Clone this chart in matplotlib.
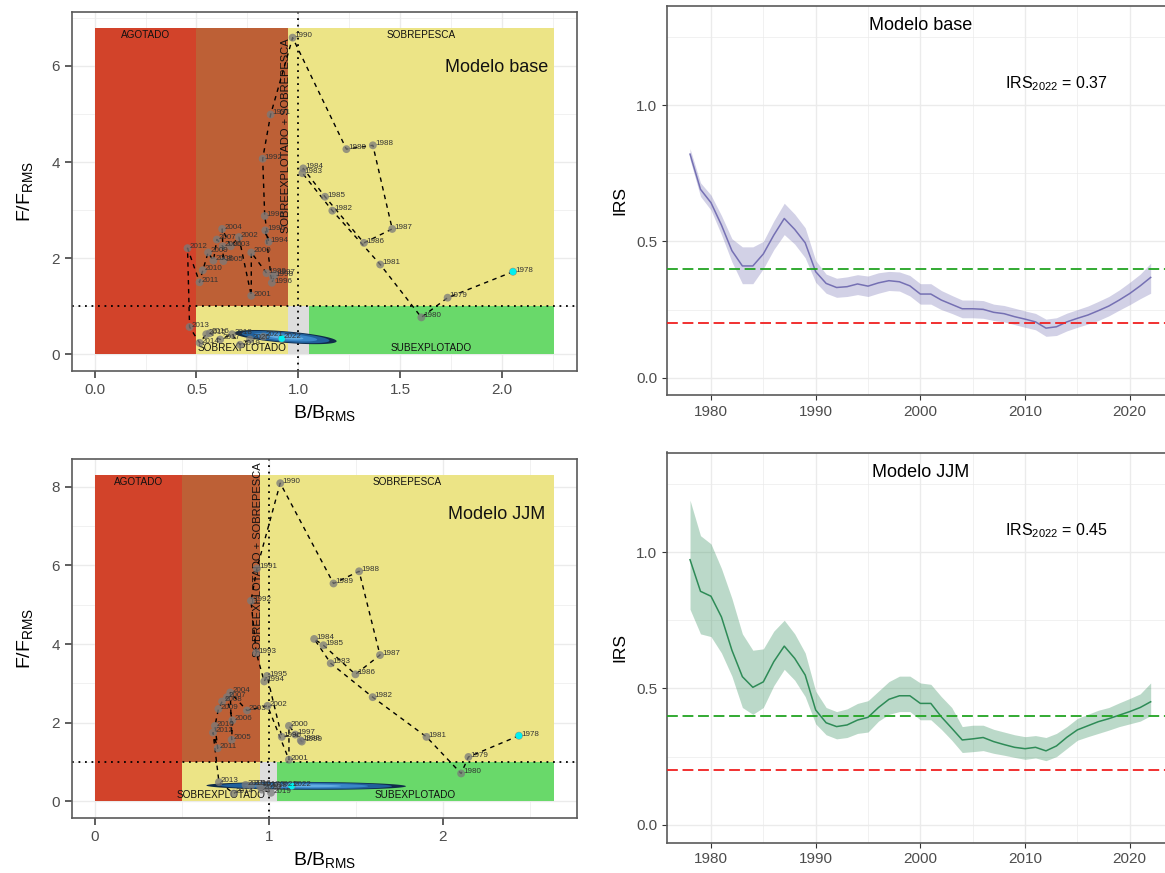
import numpy as np
import matplotlib
matplotlib.use("Agg")
import matplotlib.pyplot as plt
from matplotlib.patches import Rectangle, Polygon

plt.rcParams['font.family'] = ['Liberation Sans', 'DejaVu Sans']
plt.rcParams['mathtext.fontset'] = 'custom'
plt.rcParams['mathtext.rm'] = 'Liberation Sans'

# ---------------- data ----------------
years = list(range(1978, 2023))

base_B = [2.054, 1.733, 1.604, 1.402, 1.167, 1.020, 1.024, 1.131, 1.322, 1.461,
          1.366, 1.236, 0.972, 0.864, 0.825, 0.835, 0.854, 0.838, 0.870, 0.885,
          0.875, 0.844, 0.769, 0.769, 0.708, 0.668, 0.626, 0.632, 0.629, 0.600,
          0.583, 0.557, 0.531, 0.515, 0.456, 0.466, 0.515, 0.548, 0.565, 0.616,
          0.675, 0.714, 0.763, 0.828, 0.919]
base_F = [1.72, 1.18, 0.77, 1.87, 2.99, 3.77, 3.87, 3.28, 2.32, 2.61,
          4.35, 4.27, 6.59, 4.99, 4.07, 2.88, 2.34, 2.58, 1.49, 1.66,
          1.62, 1.69, 2.12, 1.22, 2.44, 2.25, 2.61, 1.94, 2.25, 2.39,
          1.95, 2.12, 1.75, 1.50, 2.21, 0.57, 0.24, 0.42, 0.44, 0.31,
          0.42, 0.20, 0.31, 0.37, 0.33]

jjm_B = [2.437, 2.147, 2.105, 1.906, 1.597, 1.356, 1.261, 1.314, 1.498, 1.639,
         1.519, 1.372, 1.066, 0.932, 0.898, 0.928, 0.974, 0.990, 1.075, 1.152,
         1.184, 1.190, 1.116, 1.116, 0.993, 0.875, 0.779, 0.787, 0.791, 0.760,
         0.732, 0.711, 0.691, 0.707, 0.680, 0.714, 0.799, 0.867, 0.900, 0.950,
         0.990, 1.013, 0.960, 1.050, 1.131]
jjm_F = [1.67, 1.13, 0.71, 1.64, 2.65, 3.51, 4.13, 3.97, 3.23, 3.72,
         5.85, 5.54, 8.09, 5.92, 5.10, 3.78, 3.05, 3.19, 1.64, 1.70,
         1.55, 1.52, 1.92, 1.06, 2.43, 2.31, 2.77, 1.57, 2.06, 2.65,
         2.54, 2.35, 1.92, 1.35, 1.75, 0.49, 0.20, 0.42, 0.40, 0.38,
         0.36, 0.22, 0.30, 0.38, 0.39]

# uncertainty ellipse of terminal year: centre, semi-major vector, semi-minor vector
base_ell = [0.937, 0.36, 0.251, -0.086, 0.0, 0.12]
jjm_ell = [1.215, 0.395, 0.573, -0.01, 0.0, 0.10]

base_irs = [0.820, 0.691, 0.642, 0.560, 0.466, 0.410, 0.410, 0.454, 0.523, 0.584,
            0.544, 0.495, 0.389, 0.346, 0.331, 0.334, 0.344, 0.336, 0.348, 0.356,
            0.352, 0.337, 0.307, 0.307, 0.285, 0.269, 0.253, 0.253, 0.251, 0.240,
            0.235, 0.224, 0.215, 0.205, 0.182, 0.187, 0.205, 0.218, 0.230, 0.246,
            0.263, 0.285, 0.309, 0.337, 0.368]
base_hi = [0.84, 0.715, 0.67, 0.595, 0.51, 0.48, 0.48, 0.50, 0.575, 0.64,
           0.60, 0.55, 0.43, 0.38, 0.365, 0.37, 0.378, 0.373, 0.385, 0.39,
           0.388, 0.375, 0.345, 0.345, 0.32, 0.302, 0.285, 0.285, 0.283, 0.27,
           0.265, 0.255, 0.245, 0.236, 0.215, 0.22, 0.237, 0.25, 0.263, 0.28,
           0.298, 0.322, 0.35, 0.38, 0.42]
base_lo = [0.80, 0.665, 0.615, 0.525, 0.425, 0.345, 0.345, 0.40, 0.47, 0.525,
           0.49, 0.44, 0.35, 0.31, 0.295, 0.298, 0.305, 0.298, 0.31, 0.32,
           0.318, 0.30, 0.27, 0.27, 0.25, 0.236, 0.22, 0.22, 0.218, 0.21,
           0.205, 0.195, 0.185, 0.176, 0.152, 0.155, 0.172, 0.185, 0.197, 0.21,
           0.227, 0.248, 0.268, 0.29, 0.31]

jjm_irs = [0.972, 0.856, 0.838, 0.762, 0.640, 0.543, 0.504, 0.524, 0.598, 0.655,
           0.610, 0.549, 0.421, 0.374, 0.360, 0.366, 0.384, 0.394, 0.430, 0.460,
           0.473, 0.473, 0.445, 0.445, 0.396, 0.354, 0.311, 0.315, 0.320, 0.305,
           0.294, 0.284, 0.279, 0.284, 0.271, 0.289, 0.321, 0.348, 0.363, 0.378,
           0.389, 0.402, 0.415, 0.430, 0.451]
jjm_hi = [1.19, 1.06, 1.03, 0.94, 0.83, 0.70, 0.64, 0.645, 0.71, 0.75,
          0.70, 0.63, 0.49, 0.43, 0.415, 0.425, 0.445, 0.455, 0.49, 0.525,
          0.545, 0.545, 0.52, 0.515, 0.47, 0.43, 0.36, 0.365, 0.365, 0.35,
          0.34, 0.33, 0.323, 0.327, 0.32, 0.335, 0.36, 0.39, 0.405, 0.42,
          0.43, 0.447, 0.463, 0.48, 0.52]
jjm_lo = [0.79, 0.70, 0.69, 0.63, 0.545, 0.43, 0.405, 0.43, 0.51, 0.57,
          0.53, 0.47, 0.37, 0.33, 0.315, 0.32, 0.335, 0.34, 0.38, 0.405,
          0.415, 0.415, 0.385, 0.385, 0.35, 0.31, 0.265, 0.268, 0.272, 0.262,
          0.255, 0.247, 0.24, 0.245, 0.235, 0.25, 0.28, 0.31, 0.323, 0.335,
          0.347, 0.36, 0.37, 0.38, 0.40]

# ---------------- figure ----------------
W, H = 1165, 873
fig = plt.figure(figsize=(W / 100, H / 100), dpi=100)


def px_axes(l, t, r, b):
    return fig.add_axes([l / W, 1 - b / H, (r - l) / W, (b - t) / H])


BORDER = '#5A5A5A'
GRID = '#EBEBEB'
TICKC = '#4D4D4D'


def style(ax, tlen=5, tw=1.1):
    for s in ax.spines.values():
        s.set_color(BORDER)
        s.set_linewidth(1.2)
    ax.tick_params(which='major', length=tlen, width=tw, color='#333333',
                   labelcolor=TICKC, labelsize=11)
    ax.tick_params(which='minor', length=0)
    ax.grid(True, which='major', color=GRID, lw=1.0, zorder=0)
    ax.grid(True, which='minor', color=GRID, lw=0.5, zorder=0)
    ax.set_axisbelow(True)


def ellipse_poly(p, scale):
    t = np.linspace(0, 2 * np.pi, 300)
    cx, cy, ax_, ay_, bx_, by_ = p
    x = cx + scale * (ax_ * np.cos(t) + bx_ * np.sin(t))
    y = cy + scale * (ay_ * np.cos(t) + by_ * np.sin(t))
    return np.column_stack([x, y])


def kobe(ax, B, F, ell, title, rot_y, xticks, xticklabels, yticks, xminor, yminor):
    bmax = max(B) + 0.2
    fmax = max(F) + 0.2
    ax.set_xlim(-0.05 * bmax, 1.05 * bmax)
    ax.set_ylim(-0.05 * fmax, 1.05 * fmax)
    style(ax)
    ax.set_xticks(xticks)
    ax.set_xticklabels(xticklabels)
    ax.set_yticks(yticks)
    ax.set_xticks(xminor, minor=True)
    ax.set_yticks(yminor, minor=True)

    red, brown, yellow, green, grey = '#D2432A', '#BD6036', '#ECE486', '#69D96A', '#DDDDDD'
    ax.add_patch(Rectangle((0, 0), 0.5, fmax, color=red, lw=0, zorder=1))
    ax.add_patch(Rectangle((0.5, 1), 0.45, fmax - 1, color=brown, lw=0, zorder=1))
    ax.add_patch(Rectangle((0.95, 1), bmax - 0.95, fmax - 1, color=yellow, lw=0, zorder=1))
    ax.add_patch(Rectangle((0.5, 0), 0.45, 1, color=yellow, lw=0, zorder=1))
    ax.add_patch(Rectangle((0.95, 0), 0.1, 1, color=grey, lw=0, zorder=1))
    ax.add_patch(Rectangle((1.05, 0), bmax - 1.05, 1, color=green, lw=0, zorder=1))

    ax.axhline(1, color='black', ls=(0, (1, 2.6)), lw=1.3, zorder=2)
    ax.axvline(1, color='black', ls=(0, (1, 2.6)), lw=1.3, zorder=2)

    kw = dict(fontsize=7.2, color='#111111', zorder=3)
    ax.annotate('AGOTADO', (0.25, fmax), xytext=(0, -1.5), textcoords='offset points',
                ha='center', va='top', **kw)
    ax.annotate('SOBREPESCA', ((0.95 + bmax) / 2, fmax), xytext=(0, -1.5),
                textcoords='offset points', ha='center', va='top', **kw)
    ax.annotate('SOBREXPLOTADO', (0.725, 0), xytext=(0, 1),
                textcoords='offset points', ha='center', va='bottom', **kw)
    ax.annotate('SUBEXPLOTADO', ((1.05 + bmax) / 2, 0), xytext=(0, 1),
                textcoords='offset points', ha='center', va='bottom', **kw)
    ax.text(0.937, rot_y, 'SOBREEXPLOTADO + SOBREPESCA', rotation=90,
            ha='center', va='center', fontsize=8, color='#111111', zorder=3)

    ax.plot(B, F, color='black', ls=(0, (3.2, 3.2)), lw=1.0, zorder=4)

    for sc, col in zip([1.0, 0.86, 0.62, 0.35], ['#102B4A', '#21609B', '#3A86C8', '#62ACE2']):
        ax.add_patch(Polygon(ellipse_poly(ell, sc), closed=True, facecolor=col,
                             edgecolor='none', zorder=5))

    ax.scatter(B, F, s=32, color='#7A7A7A', alpha=0.75, edgecolors='none', zorder=6)
    ax.scatter([B[0], B[-1]], [F[0], F[-1]], s=24, color='#00F0F0',
               edgecolors='none', zorder=7)
    for y, b, f in zip(years, B, F):
        ax.annotate(str(y), (b, f), xytext=(1.5, 1.2), textcoords='offset points',
                    ha='left', va='center', fontsize=5.8, color='#333333', zorder=8)

    ax.text(0.875 * bmax, 0.88 * fmax, title, ha='center', va='center',
            fontsize=13, color='#111111', zorder=8)

    ax.set_xlabel(r'B/B$_{\mathregular{RMS}}$', fontsize=14, labelpad=5)
    ax.set_ylabel(r'F/F$_{\mathregular{RMS}}$', fontsize=14, labelpad=11)


def irs_panel(ax, irs, lo, hi, col, title):
    span = years[-1] - years[0]
    ax.set_xlim(years[0] - 0.05 * span, years[-1] + 0.05 * span)
    ax.set_ylim(-0.065, 1.365)
    style(ax, tlen=3.5, tw=0.8)
    ax.set_xticks([1980, 1990, 2000, 2010, 2020])
    ax.set_xticks([1985, 1995, 2005, 2015], minor=True)
    ax.set_yticks([0, 0.5, 1.0])
    ax.set_yticklabels(['0.0', '0.5', '1.0'])
    ax.set_yticks([0.25, 0.75, 1.25], minor=True)
    ax.fill_between(years, lo, hi, color=col, alpha=0.32, lw=0, zorder=2)
    ax.plot(years, irs, color=col, lw=1.1, zorder=3)
    ax.axhline(0.4, color='#22A422', ls=(0, (6, 2.6)), lw=1.3, zorder=4)
    ax.axhline(0.2, color='#F02020', ls=(0, (6, 2.6)), lw=1.3, zorder=4)
    ax.text(2000, 1.29, title, ha='center', va='center', fontsize=13)
    ax.text(2013, 1.08, r'IRS$_{\mathregular{2022}}$ = ' + f'{irs[-1]:.2f}',
            ha='center', va='center', fontsize=11.5)
    ax.set_ylabel('IRS', fontsize=12.5, labelpad=6)


ax1 = px_axes(71.7, 11.7, 576.7, 370.7)
kobe(ax1, base_B, base_F, base_ell, 'Modelo base', 4.55,
     [0, 0.5, 1.0, 1.5, 2.0], ['0.0', '0.5', '1.0', '1.5', '2.0'],
     [0, 2, 4, 6], [0.25, 0.75, 1.25, 1.75, 2.25], [1, 3, 5, 7])

ax2 = px_axes(71.7, 459, 576.7, 817.7)
kobe(ax2, jjm_B, jjm_F, jjm_ell, 'Modelo JJM', 6.15,
     [0, 1, 2], ['0', '1', '2'],
     [0, 2, 4, 6, 8], [0.5, 1.5, 2.5], [1, 3, 5, 7])

# right panels run past the right edge of the picture (cropped, as in the source)
ax3 = px_axes(667, 5.5, 1173.7, 395.5)
irs_panel(ax3, base_irs, base_lo, base_hi, '#7570B3', 'Modelo base')

ax4 = px_axes(667, 452.5, 1173.7, 842.5)
irs_panel(ax4, jjm_irs, jjm_lo, jjm_hi, '#2E8B57', 'Modelo JJM')

fig.savefig('out.png', dpi=100)
